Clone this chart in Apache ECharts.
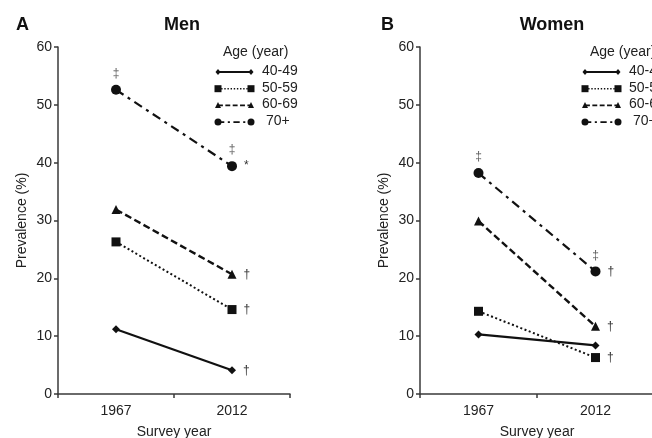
<!DOCTYPE html>
<html><head><meta charset="utf-8">
<script src="https://cdn.jsdelivr.net/npm/echarts@6/dist/echarts.min.js"></script>
<style>html,body{margin:0;padding:0;background:#fff}#c{width:652px;height:438px}</style>
</head><body><div id="c"></div>
<script>
const categories = ['1967', '2012'];
const ageGroups = ['40-49', '50-59', '60-69', '70+'];
const yTicks = [0, 10, 20, 30, 40, 50, 60];
// Men prevalence (%)
const men4049 = [11.2, 4.1];
const men5059 = [26.3, 14.6];
const men6069 = [31.9, 20.7];
const men70 = [52.6, 39.4];
// Women prevalence (%)
const women4049 = [10.3, 8.4];
const women5059 = [14.3, 6.3];
const women6069 = [29.9, 11.7];
const women70 = [38.2, 21.2];
// significance marks: above the 70+ points, right of 2012 points
const menTopMarks = ['‡', '‡'];
const menRightMarks = ['†', '†', '†', '*'];
const womenTopMarks = ['‡', '‡'];
const womenRightMarks = ['', '†', '†', '†'];

const FONT = 'Liberation Sans, Arial, sans-serif';
const INK = '#111';
const AX = '#3a3a3a';

const styles = [
  { symbol: 'diamond', size: 8, type: 'solid', width: 2.2 },
  { symbol: 'rect', size: 9, type: [2, 2.5], width: 2 },
  { symbol: 'triangle', size: 9, type: [7, 3.5], width: 2.4 },
  { symbol: 'circle', size: 10, type: [9, 5, 3, 5], width: 2.2 }
];

function makeSeries(idx, arrays, rightMarks, topMarks) {
  const out = [];
  arrays.forEach((vals, g) => {
    const st = styles[g];
    out.push({
      type: 'line', name: ageGroups[g], xAxisIndex: idx, yAxisIndex: idx,
      symbol: st.symbol, symbolSize: st.size, showAllSymbol: true,
      lineStyle: { color: INK, width: st.width, type: st.type },
      itemStyle: { color: INK },
      data: vals.map((v, i) => i === 1 ? {
        value: v,
        label: { show: !!rightMarks[g], formatter: rightMarks[g], position: 'right', distance: 7,
                 color: '#333', fontSize: 12, fontFamily: FONT }
      } : v),
      animation: false, z: 3
    });
  });
  out.push({
    type: 'scatter', xAxisIndex: idx, yAxisIndex: idx, symbolSize: 0,
    data: arrays[3].map((v, i) => ({ value: v,
      label: { show: true, formatter: topMarks[i], position: 'top', distance: 10,
               color: '#333', fontSize: 12, fontFamily: FONT } })),
    silent: true, animation: false
  });
  return out;
}

function xAxis(idx) {
  return {
    type: 'category', gridIndex: idx, data: categories, boundaryGap: true,
    name: 'Survey year', nameLocation: 'middle', nameGap: 31,
    nameTextStyle: { fontSize: 14, color: '#222', fontFamily: FONT },
    axisLine: { lineStyle: { color: AX, width: 1.5 } },
    axisTick: { show: true, length: 4, lineStyle: { color: AX, width: 1.5 } },
    axisLabel: { fontSize: 14, color: '#222', fontFamily: FONT, margin: 10 },
    splitLine: { show: false }
  };
}
function yAxis(idx) {
  return {
    type: 'value', gridIndex: idx, min: yTicks[0], max: yTicks[yTicks.length - 1], interval: 10,
    name: 'Prevalence (%)', nameLocation: 'middle', nameGap: 29,
    nameTextStyle: { fontSize: 14, color: '#222', fontFamily: FONT },
    axisLine: { show: true, lineStyle: { color: AX, width: 1.5 } },
    axisTick: { show: true, length: 4, lineStyle: { color: AX, width: 1.5 } },
    axisLabel: { fontSize: 14, color: '#222', fontFamily: FONT, margin: 6 },
    splitLine: { show: false }
  };
}

// Legend drawn as graphic (line sample with end symbols)
function legendGraphic(x0) {
  const els = [];
  els.push({ type: 'text', left: x0 + 5, top: 45,
    style: { text: 'Age (year)', font: '14px ' + FONT, fill: '#222' } });
  ageGroups.forEach((g, i) => {
    const y = 72 + i * 16.7;
    const st = styles[i];
    els.push({ type: 'line', shape: { x1: x0, y1: y, x2: x0 + 33, y2: y },
      style: { stroke: INK, lineWidth: st.width * 0.8, lineDash: st.type === 'solid' ? null : st.type.map(d => d * 0.7) } });
    [x0, x0 + 33].forEach(cx => {
      let s;
      if (st.symbol === 'diamond') s = { type: 'polygon', shape: { points: [[cx, y - 3], [cx + 2.5, y], [cx, y + 3], [cx - 2.5, y]] }, style: { fill: INK } };
      else if (st.symbol === 'rect') s = { type: 'rect', shape: { x: cx - 3.5, y: y - 3.5, width: 7, height: 7 }, style: { fill: INK } };
      else if (st.symbol === 'triangle') s = { type: 'polygon', shape: { points: [[cx, y - 3.5], [cx + 3, y + 2.5], [cx - 3, y + 2.5]] }, style: { fill: INK } };
      else s = { type: 'circle', shape: { cx: cx, cy: y, r: 3.5 }, style: { fill: INK } };
      els.push(s);
    });
    els.push({ type: 'text', left: x0 + 44 + (i === 3 ? 4 : 0), top: y - 8,
      style: { text: g, font: '14px ' + FONT, fill: '#222' } });
  });
  return els;
}

const chart = echarts.init(document.getElementById('c'), null, { renderer: 'canvas' });
chart.setOption({
  backgroundColor: '#fff',
  animation: false,
  title: [
    { text: 'A', left: 11, top: 11, textStyle: { fontSize: 18, fontWeight: 'bold', color: '#111', fontFamily: FONT } },
    { text: 'Men', left: 177, top: 11, textAlign: 'center', textStyle: { fontSize: 18, fontWeight: 'bold', color: '#111', fontFamily: FONT } },
    { text: 'B', left: 376, top: 11, textStyle: { fontSize: 18, fontWeight: 'bold', color: '#111', fontFamily: FONT } },
    { text: 'Women', left: 547, top: 11, textAlign: 'center', textStyle: { fontSize: 18, fontWeight: 'bold', color: '#111', fontFamily: FONT } }
  ],
  grid: [
    { left: 58, top: 47, width: 232, height: 347, outerBoundsMode: 'none', containLabel: false },
    { left: 420, top: 47, width: 234, height: 347, outerBoundsMode: 'none', containLabel: false }
  ],
  xAxis: [xAxis(0), xAxis(1)],
  yAxis: [yAxis(0), yAxis(1)],
  graphic: legendGraphic(218).concat(legendGraphic(585)),
  series: makeSeries(0, [men4049, men5059, men6069, men70], menRightMarks, menTopMarks)
    .concat(makeSeries(1, [women4049, women5059, women6069, women70], womenRightMarks, womenTopMarks))
});
</script></body></html>
